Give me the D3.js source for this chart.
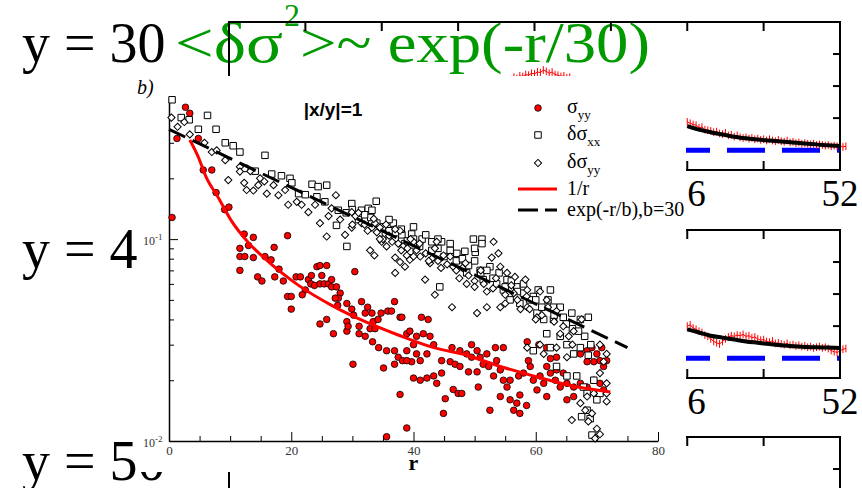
<!DOCTYPE html>
<html>
<head>
<meta charset="utf-8">
<script src="https://d3js.org/d3.v7.min.js"></script>
<style>
  body { margin: 0; background: #fff; }
  svg { display: block; }
</style>
</head>
<body>
<svg id="chart"></svg>
<script>

// ---- inset (b): correlation vs distance r, |x/y| = 1
var sigmaYY = [
  [2.7,.45],[3.4,.42],[1.3,.315],[4.8,.315],[0.5,.128],[5.6,.22],[7.0,.22],[7.7,.17],[9.1,.14],[9.8,.144],
  [12.3,.106],[13.8,.102],[11.6,.09],[13,.093],[11.6,.082],[12.4,.082],[11.6,.07],[13.8,.081],[14.5,.065],[15.2,.062],
  [15.7,.082],[16.7,.079],[17.2,.091],[18,.071],[17.3,.065],[18.7,.062],[19.4,.104],[19.4,.052],[20,.052],[20,.045],
  [20.8,.065],[21.5,.065],[22.3,.056],[21.8,.053],[22.8,.063],[23.3,.066],[23.2,.06],[23.8,.059],[24.2,.073],[24.7,.074],
  [25.8,.074],[25,.066],[24.7,.06],[25.4,.06],[26.1,.06],[26.6,.063],[26.6,.058],[27.4,.058],[28,.054],[27.7,.051],
  [27.2,.051],[27.6,.047],[24.7,.038],[25.8,.040],[26.9,.034],[30.4,.069],[29.1,.048],[29.9,.045],[30.2,.042],[29.1,.039],
  [29.1,.035],[29.3,.037],[31.1,.037],[31.1,.034],[31.5,.049],[32.5,.046],[32.1,.043],[33.2,.043],[33.4,.039],[34.2,.04],
  [34.7,.043],[35.8,.044],[36.4,.044],[36.9,.049],[37.8,.041],[32.9,.036],[33.7,.036],[32.1,.033],[33.3,.031],[34.3,.029],
  [35.6,.028],[35.1,.023],[36.9,.028],[36.9,.024],[37.5,.026],[38.2,.025],[38.9,.028],[38.9,.034],[39.7,.0247],[40,.0205],
  [37.8,.017],[38.9,.0116],[35.6,.0105],[30.1,.024],[38.1,.041],[41.3,.041],[42.4,.040],[39.4,.035],[40.5,.033],[41.6,.034],
  [42.7,.033],[43.3,.03],[40,.03],[40.5,.027],[42.2,.027],[38.9,.025],[41.1,.025],[41.1,.02],[42.2,.0205],[43.3,.021],
  [43.8,.0193],[44.6,.025],[44.6,.0217],[45.2,.0162],[44.9,.0137],[46.5,.018],[47.3,.0172],[47.9,.0172],[46,.0247],[46.8,.024],
  [47.6,.0234],[46.3,.029],[47.6,.028],[48.7,.027],[49.5,.03],[50.4,.028],[49.5,.026],[50.9,.026],[52,.027],[51.4,.024],
  [49,.022],[50.4,.022],[52.3,.0234],[53.4,.029],[54.7,.029],[53.6,.025],[54.2,.0225],[53.1,.021],[54.7,.02],[55.3,.0185],
  [50.6,.0185],[52.5,.0142],[55.8,.016],[56.4,.0142],[56.9,.0154],[57.4,.0169],[58.5,.015],[55.8,.02],[57.2,.021],[58,.0217],
  [59.1,.0234],[58.8,.025],[59.6,.02],[60.2,.0179],[60.7,.021],[61.3,.0193],[61.8,.0234],[62.4,.0217],[63.2,.02],[64,.0185],
  [63.4,.0225],[64.5,.0217],[65.1,.0193],[66.2,.0185],[67.3,.0193],[68.4,.0185],[69.5,.02],[70.5,.0193],[71.1,.0179],[68.4,.028],
  [69.2,.029],[70,.027],[70.8,.029],[71.6,.025],[70.5,.025],[69.5,.0247],[68.4,.0247],[67.3,.027],[71.1,.0234],[63.4,.026],
  [62.4,.0256],[61.8,.0166],[65.1,.016],[66.2,.0166],[57.4,.0137],[54.2,.0166],[58.6,.031],[60.5,.03],[61.8,.029]
];

var dSigmaXX = [
  [0.5,.49],[2,.4],[3.3,.39],[4.8,.35],[6.3,.41],[7.7,.35],[9.2,.30],[10.5,.29],[11.6,.27],[15.7,.26],
  [12.4,.224],[14.1,.217],[16.8,.21],[18.4,.206],[19.8,.2],[20.1,.19],[23.4,.187],[24.4,.182],[25.8,.185],[21.2,.168],
  [22.3,.166],[24.2,.162],[25.5,.153],[27.7,.139],[29.9,.15],[31.5,.139],[32.6,.142],[33.9,.154],[33.2,.139],[27.4,.117],
  [29.1,.092],[31,.129],[32.1,.124],[36.7,.12],[35.4,.106],[38.1,.105],[39.7,.106],[38.6,.095],[39.4,.087],[41.4,.1],
  [43,.097],[44.6,.097],[46,.088],[47.1,.085],[48.4,.087],[49.8,.1],[51.2,.1],[51.2,.095],[50.1,.086],[47.6,.079],
  [44.3,.058],[48.7,.068],[50.9,.07],[52.5,.073],[51.4,.063],[53.6,.06],[54.7,.056],[55.3,.063],[56.9,.058],[58,.054],
  [55.8,.05],[57.4,.048],[59.6,.052],[60.4,.056],[62.4,.056],[62.9,.046],[60.2,.043],[61.3,.04],[62.9,.04],[64.5,.041],
  [65.9,.043],[67.3,.04],[68.6,.041],[61.8,.034],[64,.033],[59.6,.028],[62.4,.029],[65.1,.03],[66.2,.027],[67.3,.029],
  [63.4,.0234],[65.1,.021],[66.7,.021],[67.8,.0185],[68.4,.0172],[67.5,.0132],[68.9,.0129],[68.4,.0142],[69.5,.02],[70.5,.0172],
  [69.2,.0107],[70,.016],[68.6,.0266],[29,.135],[31,.125],[33,.128],[35,.115],[37,.1],[39,.098],[41,.092],
  [43,.088],[45,.082],[47,.078],[49,.074],[51,.068],[53,.064],[55,.058],[57,.055],[59,.05],[61,.046],
  [63,.042],[66,.036],[68,.033],[30,.14],[32,.132],[34,.12],[36,.11],[36,.125],[38,.112],[40,.1],
  [40,.115],[42,.105],[44,.09],[44,.1],[46,.095],[48,.08],[50,.078],[50,.09],[52,.07],[54,.068],
  [56,.062],[58,.06],[60,.05],[62,.05],[64,.046],[65,.038],[67,.035],[69,.03]
];

var dSigmaYY = [
  [0.4,.4],[1.4,.36],[2.5,.38],[3.4,.33],[5.8,.3],[7,.27],[7.8,.275],[9.2,.246],[9.7,.196],[11.6,.228],
  [11.6,.216],[12.3,.19],[13.3,.217],[12.7,.175],[13.8,.174],[14.6,.185],[14.9,.2],[15.6,.193],[16,.168],[17.1,.185],
  [17.9,.165],[19.5,.148],[19,.175],[20.9,.153],[21.7,.148],[22.8,.136],[23.9,.148],[24.7,.12],[26.1,.13],[27.3,.165],
  [26.6,.142],[25.8,.103],[28.8,.105],[29.9,.114],[31.5,.12],[29.9,.136],[33.2,.114],[33.7,.12],[34.5,.114],[33.6,.083],
  [32.9,.088],[34.8,.097],[35.6,.092],[37,.081],[37.8,.077],[37,.068],[38.6,.073],[40,.097],[38.9,.083],[37.8,.11],
  [38.3,.092],[39.4,.079],[41.1,.082],[42.7,.076],[41.9,.063],[43.5,.053],[46.3,.046],[43.8,.097],[44.9,.083],[46.5,.073],
  [48.7,.06],[50.4,.043],[52,.046],[53.1,.097],[53.9,.085],[52.8,.081],[54.2,.073],[55.3,.068],[56.6,.065],[58.3,.063],
  [58.6,.056],[56.4,.054],[54.2,.046],[58.6,.046],[60.2,.041],[60.7,.055],[61.8,.05],[63.4,.044],[64.5,.037],[58.6,.029],
  [60.7,.03],[61.3,.027],[63.4,.029],[65.1,.026],[67.5,.04],[66.2,.035],[65.4,.033],[70.5,.03],[71.6,.027],[71.1,.0247],
  [71.6,.0193],[70.5,.0217],[69.5,.0172],[71.6,.0172],[71.6,.0157],[68.4,.0166],[67.3,.0154],[68.1,.0142],[69.2,.0137],[65.9,.0127],
  [68.6,.0125],[70,.0115],[70.5,.0108],[69.7,.0103],[28,.125],[30.5,.13],[32,.118],[34,.108],[35,.1],[36,.104],
  [37.5,.095],[39,.09],[40.5,.088],[42,.085],[43,.08],[44,.078],[45.5,.075],[47,.07],[48,.072],[49,.066],
  [50,.062],[51.5,.06],[53,.057],[55,.053],[57,.05],[59,.045],[61,.042],[63,.039],[30,.118],[31,.135],
  [32.5,.11],[33.5,.126],[34.5,.1],[35.5,.118],[36.5,.097],[37,.112],[38,.088],[39.5,.1],[40,.082],[41,.095],
  [42.5,.078],[43.5,.09],[44.5,.072],[46,.082],[47.5,.064],[48.5,.076],[50,.058],[51,.07],[52,.055],[53.5,.064],
  [55,.048],[56,.059],[57.5,.045],[58.5,.052],[60,.04],[62,.046],[64,.034],[66,.03]
];

// fitted curves
var oneOverR_r = [3.4, 4.8, 6.0, 8.1, 10.3, 13, 15.7, 21.2, 26.6, 32.1, 37.5, 43.3, 48.7, 54.2, 59.6, 65.1, 72.2];
var oneOverR_v = [0.31, 0.255, 0.205, 0.16, 0.122, 0.096, 0.080, 0.059, 0.047, 0.039, 0.0335, 0.029, 0.0266, 0.0234, 0.021, 0.019, 0.0175];
var expFit_r = [0, 75];
var expFit_v = [0.35, 0.029];

var xMajorTicks = [0, 20, 40, 60, 80];
var xMinorTicks = [5, 10, 15, 25, 30, 35, 45, 50, 55, 65, 70, 75];
var yMajorTicks = [0.01, 0.1];
var yMajorLabels = ["-2", "-1"];
var yMinorTicks = [0.02, 0.03, 0.04, 0.05, 0.06, 0.07, 0.08, 0.09, 0.2, 0.3, 0.4, 0.5];

var legendLabels = [["σ", "yy"], ["δσ", "xx"], ["δσ", "yy"], ["1/r", ""], ["exp(-r/b),b=30", ""]];

// ---- background strips (partly hidden behind the inset)
var rowLabels = ["y = 30", "y = 4", "y = 50"];
var panelXTicks = [-52, -39, -26, -13, 0, 13, 26, 39, 52];
var panelXLabels = [-52, -26, 0, 26, 52];
var panelYTicks = [0.5, 1, 1.5];
var panel1Peak = [[-4,1.10],[-3.5,1.14],[-3,1.12],[-2.5,1.16],[-2,1.15],[-1.5,1.18],[-1,1.17],[-0.5,1.20],[0,1.19],[0.5,1.22],
  [1,1.21],[1.5,1.25],[2,1.23],[2.5,1.20],[3,1.22],[3.5,1.18],[4,1.17],[4.5,1.15],[5,1.16],[5.5,1.13],[6,1.14]];
var panel1Tail = [[26,.44],[26.5,.42],[27,.40],[27.5,.39],[28,.35],[28.5,.36],[29,.32],[29.5,.31],[30,.30],[30.5,.28],
  [31,.29],[31.5,.26],[32,.25],[32.5,.27],[33,.23],[33.5,.24],[34,.21],[34.5,.23],[35,.20],[35.5,.19],
  [36,.20],[36.5,.18],[37,.19],[37.5,.17],[38,.18],[38.5,.16],[39,.17],[39.5,.15],[40,.17],[40.5,.15],
  [41,.14],[41.5,.16],[42,.14],[42.5,.13],[43,.15],[43.5,.12],[44,.13],[44.5,.11],[45,.12],[45.5,.10],
  [46,.11],[46.5,.10],[47,.09],[47.5,.10],[48,.08],[48.5,.09],[49,.08],[49.5,.07],[50,.08],[50.5,.06],
  [51,.07],[51.5,.06],[52,.07],[52.5,.05],[53,.06]];
var panel2Tail = [[26,.50],[26.5,.52],[27,.47],[27.5,.45],[28,.42],[28.5,.40],[29,.36],[29.5,.34],[30,.30],[30.5,.26],
  [31,.24],[31.5,.22],[32,.26],[32.5,.30],[33,.33],[33.5,.35],[34,.34],[34.5,.36],[35,.35],[35.5,.37],
  [36,.34],[36.5,.35],[37,.32],[37.5,.33],[38,.30],[38.5,.28],[39,.29],[39.5,.26],[40,.25],[40.5,.27],
  [41,.23],[41.5,.24],[42,.22],[42.5,.21],[43,.23],[43.5,.20],[44,.21],[44.5,.19],[45,.20],[45.5,.18],
  [46,.19],[46.5,.17],[47,.18],[47.5,.16],[48,.17],[48.5,.18],[49,.16],[49.5,.17],[50,.15],[50.5,.12],
  [51,.10],[51.5,.09],[52,.11],[52.5,.14],[53,.15]];
var panel1Fit = [[26,.375],[28,.32],[30,.28],[32,.245],[34,.21],[36,.185],[38,.165],[40,.15],[42,.135],[44,.12],[46,.105],[48,.09],[50,.075],[52,.065]];
var panel2Fit = [[26,.45],[28,.40],[30,.35],[32,.32],[34,.29],[36,.26],[38,.24],[40,.22],[42,.20],[44,.185],[46,.175],[48,.17],[50,.165],[52,.16]];
var redErr = 0.06;

var width = 862;
var height = 488;
var serif = "'Liberation Serif','Times New Roman',serif";
var sans = "'Liberation Sans',Arial,sans-serif";

var svg = d3.select("#chart")
    .attr("width", width)
    .attr("height", height);

// Big slide labels
svg.selectAll("text.row")
    .data(rowLabels)
    .enter().append("text")
    .attr("class", "row")
    .attr("x", 22)
    .attr("y", function (d, i) { return [62, 268, 480][i]; })
    .attr("font-family", serif)
    .attr("font-size", 56)
    .attr("fill", "#000")
    .text(function (d) { return d; });

// green formula
var green = "#009900";
svg.append("text").attr("x", 175).attr("y", 62)
    .attr("font-family", serif).attr("font-size", 56).attr("fill", green)
    .attr("textLength", 108).attr("lengthAdjust", "spacingAndGlyphs")
    .text("<δσ");
svg.append("text").attr("x", 284).attr("y", 26)
    .attr("font-family", serif).attr("font-size", 32).attr("fill", green)
    .text("2");
svg.append("text").attr("x", 300).attr("y", 62)
    .attr("font-family", serif).attr("font-size", 56).attr("fill", green)
    .attr("textLength", 350).attr("lengthAdjust", "spacingAndGlyphs")
    .text(">~ exp(-r/30)");

// Strip panels: same scales, shifted down
var px = d3.scaleLinear().domain([-52, 52]).range([229, 840]);
var py = d3.scaleLinear().domain([-0.31, 2]).range([170, 22]);
var panelOffsets = [0, 208, 415];
var panelTails = [[panel1Peak, panel1Tail], [panel2Tail], []];
var panelFits = [panel1Fit, panel2Fit, null];

function drawNoise(g, pts) {
    g.append("path").datum(pts)
        .attr("fill", "none").attr("stroke", "#ff0000").attr("stroke-width", 1)
        .attr("d", d3.line().x(function (d) { return px(d[0]); }).y(function (d) { return py(d[1]); }));
    g.selectAll(null).data(pts).enter().append("line")
        .attr("x1", function (d) { return px(d[0]); })
        .attr("x2", function (d) { return px(d[0]); })
        .attr("y1", function (d) { return py(d[1] - redErr); })
        .attr("y2", function (d) { return py(d[1] + redErr); })
        .attr("stroke", "#ff0000").attr("stroke-width", 1);
}

panelOffsets.forEach(function (off, i) {
    var g = svg.append("g").attr("transform", "translate(0," + off + ")");

    // blue reference level (dashed)
    g.append("line")
        .attr("x1", px(-52)).attr("x2", px(52))
        .attr("y1", py(0)).attr("y2", py(0))
        .attr("stroke", "#0000ff").attr("stroke-width", 5)
        .attr("stroke-dasharray", "38,17").attr("stroke-dashoffset", 52);

    panelTails[i].forEach(function (pts) { drawNoise(g, pts); });

    if (panelFits[i]) {
        g.append("path").datum(panelFits[i])
            .attr("fill", "none").attr("stroke", "#000").attr("stroke-width", 4)
            .attr("d", d3.line().curve(d3.curveMonotoneX)
                .x(function (d) { return px(d[0]); })
                .y(function (d) { return py(d[1]); }));
    }

    // frame + inward ticks
    g.append("rect")
        .attr("x", px(-52)).attr("y", py(2))
        .attr("width", px(52) - px(-52)).attr("height", py(-0.31) - py(2))
        .attr("fill", "none").attr("stroke", "#000").attr("stroke-width", 2);
    g.selectAll("line.tt").data(panelXTicks.slice(1, -1)).enter().append("line")
        .attr("x1", px).attr("x2", px)
        .attr("y1", py(2)).attr("y2", py(2) + 9)
        .attr("stroke", "#000").attr("stroke-width", 2);
    g.selectAll("line.bt").data(panelXTicks.slice(1, -1)).enter().append("line")
        .attr("x1", px).attr("x2", px)
        .attr("y1", py(-0.31)).attr("y2", py(-0.31) - 9)
        .attr("stroke", "#000").attr("stroke-width", 2);
    g.selectAll("line.rt").data(panelYTicks).enter().append("line")
        .attr("x1", px(52)).attr("x2", px(52) - 7)
        .attr("y1", py).attr("y2", py)
        .attr("stroke", "#000").attr("stroke-width", 2);
    g.selectAll("text.pl").data(panelXLabels).enter().append("text")
        .attr("x", px).attr("y", py(-0.31) + 36)
        .attr("text-anchor", "middle")
        .attr("font-family", serif).attr("font-size", 37)
        .text(function (d) { return d; });
});

// ---- Inset chart
var inset = svg.append("g");
inset.append("rect")
    .attr("x", 138).attr("y", 76).attr("width", 548).attr("height", 396)
    .attr("fill", "#fff");

var x = d3.scaleLinear().domain([0, 80]).range([169, 658]);
var y = d3.scaleLog().domain([0.01, 0.5]).range([441, 98]);

// axes (ticks pointing inward)
var xAxisG = inset.append("g").attr("transform", "translate(0," + y(0.01) + ")");
xAxisG.call(d3.axisBottom(x).tickValues(xMajorTicks).tickSize(-9).tickSizeOuter(0).tickPadding(5)
    .tickFormat(d3.format("d")));
xAxisG.append("g").call(d3.axisBottom(x).tickValues(xMinorTicks).tickSize(-5).tickFormat(""))
    .select(".domain").remove();
xAxisG.selectAll("text").attr("font-family", serif).attr("font-size", 13).attr("fill", "#333");

var yAxisG = inset.append("g").attr("transform", "translate(" + x(0) + ",0)");
yAxisG.call(d3.axisLeft(y).tickValues(yMajorTicks).tickSize(-9).tickSizeOuter(0).tickFormat(""));
yAxisG.append("g").call(d3.axisLeft(y).tickValues(yMinorTicks).tickSize(-5).tickFormat(""))
    .select(".domain").remove();
inset.selectAll(".domain").attr("stroke-width", 1.5);

// y labels as 10^n
var yLab = inset.selectAll("text.ylab").data(yMajorTicks).enter().append("text")
    .attr("class", "ylab")
    .attr("x", 143).attr("y", function (d) { return y(d) + 6; })
    .attr("font-family", serif).attr("font-size", 12).attr("fill", "#333");
yLab.append("tspan").text("10");
yLab.append("tspan").attr("dy", -5).attr("font-size", 9)
    .text(function (d, i) { return yMajorLabels[i]; });

// scatter: σyy red dots, δσxx squares, δσyy diamonds
inset.selectAll("circle.syy").data(sigmaYY).enter().append("circle")
    .attr("cx", function (d) { return x(d[0]); })
    .attr("cy", function (d) { return y(d[1]); })
    .attr("r", 3.3)
    .attr("fill", "#ff0000").attr("stroke", "#000").attr("stroke-width", 0.8);

var square = d3.symbol().type(d3.symbolSquare).size(42);
inset.selectAll("path.sxx").data(dSigmaXX).enter().append("path")
    .attr("d", square)
    .attr("transform", function (d) { return "translate(" + x(d[0]) + "," + y(d[1]) + ")"; })
    .attr("fill", "#fff").attr("stroke", "#000").attr("stroke-width", 1);

var diamond = d3.symbol().type(d3.symbolSquare).size(26);
inset.selectAll("path.dyy").data(dSigmaYY).enter().append("path")
    .attr("d", diamond)
    .attr("transform", function (d) { return "translate(" + x(d[0]) + "," + y(d[1]) + ")rotate(45)"; })
    .attr("fill", "#fff").attr("stroke", "#000").attr("stroke-width", 1);

// fit lines
inset.append("path")
    .datum(oneOverR_r.map(function (r, i) { return [r, oneOverR_v[i]]; }))
    .attr("fill", "none").attr("stroke", "#ff0000").attr("stroke-width", 3)
    .attr("d", d3.line().curve(d3.curveMonotoneX)
        .x(function (d) { return x(d[0]); })
        .y(function (d) { return y(d[1]); }));
inset.append("path")
    .datum(expFit_r.map(function (r, i) { return [r, expFit_v[i]]; }))
    .attr("fill", "none").attr("stroke", "#000").attr("stroke-width", 3)
    .attr("stroke-dasharray", "18,8")
    .attr("d", d3.line()
        .x(function (d) { return x(d[0]); })
        .y(function (d) { return y(d[1]); }));

// labels
inset.append("text").attr("x", 137).attr("y", 94)
    .attr("font-family", serif).attr("font-style", "italic").attr("font-size", 20)
    .text("b)");
inset.append("text").attr("x", 333).attr("y", 116).attr("text-anchor", "middle")
    .attr("font-family", sans).attr("font-weight", "bold").attr("font-size", 19)
    .text("|x/y|=1");
inset.append("text").attr("x", x(40)).attr("y", 470).attr("text-anchor", "middle")
    .attr("font-family", serif).attr("font-weight", "bold").attr("font-size", 22)
    .text("r");

// legend
var legendY = [108, 135, 163, 189, 210];
var leg = inset.selectAll("g.leg").data(legendLabels).enter().append("g")
    .attr("class", "leg")
    .attr("transform", function (d, i) { return "translate(0," + legendY[i] + ")"; });
leg.filter(function (d, i) { return i === 0; }).append("circle")
    .attr("cx", 538).attr("cy", 0).attr("r", 3.3)
    .attr("fill", "#ff0000").attr("stroke", "#000").attr("stroke-width", 0.8);
leg.filter(function (d, i) { return i === 1; }).append("path")
    .attr("d", square).attr("transform", "translate(538,0)")
    .attr("fill", "#fff").attr("stroke", "#000");
leg.filter(function (d, i) { return i === 2; }).append("path")
    .attr("d", diamond).attr("transform", "translate(538,0)rotate(45)")
    .attr("fill", "#fff").attr("stroke", "#000");
leg.filter(function (d, i) { return i === 3; }).append("line")
    .attr("x1", 518).attr("x2", 557).attr("stroke", "#ff0000").attr("stroke-width", 3);
leg.filter(function (d, i) { return i === 4; }).append("line")
    .attr("x1", 518).attr("x2", 557).attr("stroke", "#000").attr("stroke-width", 3)
    .attr("stroke-dasharray", "20,7");
var legText = leg.append("text")
    .attr("x", 567)
    .attr("y", function (d, i) { return i < 3 ? 5 : 6; })
    .attr("font-family", serif).attr("font-size", 20);
legText.append("tspan").text(function (d) { return d[0]; });
legText.append("tspan").attr("dy", 6).attr("font-size", 13)
    .text(function (d) { return d[1]; });

</script>
</body>
</html>
